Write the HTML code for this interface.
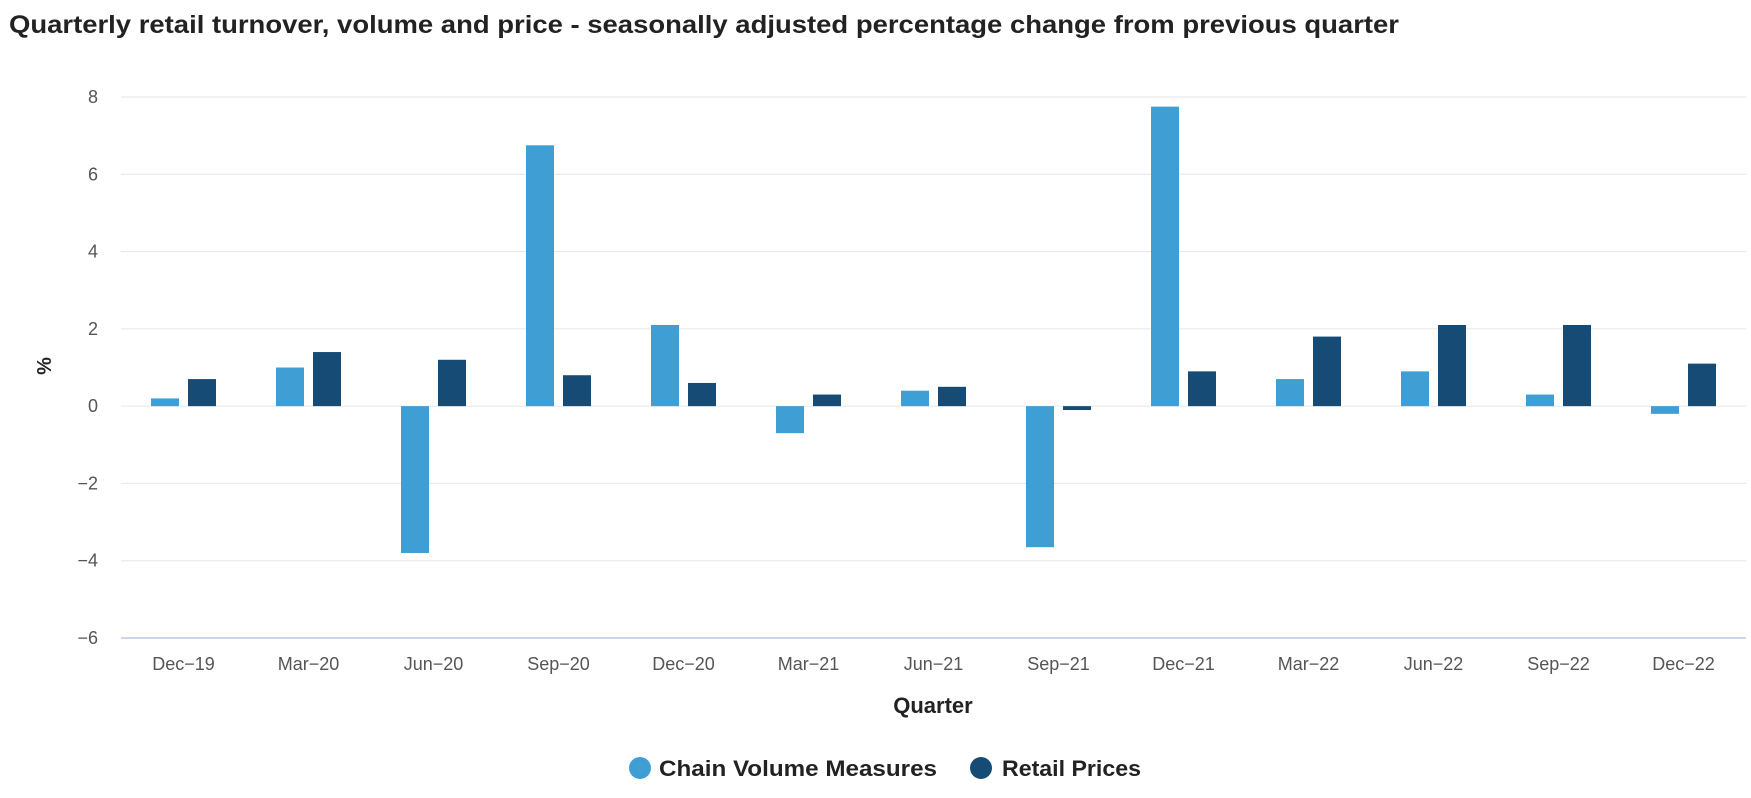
<!DOCTYPE html>
<html><head><meta charset="utf-8"><style>
html,body{margin:0;padding:0;background:#fff;}
svg{display:block;font-family:"Liberation Sans",sans-serif;}
</style></head><body>
<svg id="chart" width="1751" height="798">
<text x="9" y="33" font-size="25" font-weight="bold" fill="#222" textLength="1390" lengthAdjust="spacingAndGlyphs">Quarterly retail turnover, volume and price - seasonally adjusted percentage change from previous quarter</text>
<g id="grid"></g><g id="bars"></g><g id="xlabels"></g>
<text x="0" y="0" transform="translate(51,366) rotate(-90)" text-anchor="middle" font-size="20" font-weight="bold" fill="#222">%</text>
<text x="933" y="713" text-anchor="middle" font-size="22" font-weight="bold" fill="#222">Quarter</text>
<g><circle cx="640" cy="768" r="11" fill="#3f9fd4"/><text x="659" y="776" font-size="22" font-weight="bold" fill="#222" textLength="278" lengthAdjust="spacingAndGlyphs">Chain Volume Measures</text></g>
<g><circle cx="981" cy="768" r="11" fill="#154b74"/><text x="1002" y="776" font-size="22" font-weight="bold" fill="#222" textLength="139" lengthAdjust="spacingAndGlyphs">Retail Prices</text></g>
</svg>
<script>
const categories=["Dec-19","Mar-20","Jun-20","Sep-20","Dec-20","Mar-21","Jun-21","Sep-21","Dec-21","Mar-22","Jun-22","Sep-22","Dec-22"];
const chainVolume=[0.2,1.0,-3.8,6.75,2.1,-0.7,0.4,-3.65,7.75,0.7,0.9,0.3,-0.2];
const retailPrices=[0.7,1.4,1.2,0.8,0.6,0.3,0.5,-0.1,0.9,1.8,2.1,2.1,1.1];
const yTicks=[-6,-4,-2,0,2,4,6,8];
const NS="http://www.w3.org/2000/svg";
const L=121,R=1746,T=97,B=638,yMin=-6,yMax=8;
const y=v=>B-(v-yMin)/(yMax-yMin)*(B-T);
const band=(R-L)/categories.length;
const xc=i=>L+band*(i+0.5);
const grid=document.getElementById('grid'),bars=document.getElementById('bars'),xl=document.getElementById('xlabels');
function mk(tag,attrs,parent){const e=document.createElementNS(NS,tag);for(const k in attrs)e.setAttribute(k,attrs[k]);parent.appendChild(e);return e;}
yTicks.forEach(t=>{
  const ln=mk('line',{x1:L,x2:R,y1:y(t),y2:y(t),stroke:t===yMin?'#ccd6eb':'#e6e6e6','stroke-width':t===yMin?2:1},grid);
  
  
  const tx=mk('text',{x:98,y:y(t)+6,'text-anchor':'end','font-size':18,fill:'#555'},grid);
  tx.textContent=t<0?'\u2212'+Math.abs(t):String(t);
  
  
});
const bw=28,gap=9;
function bar(i,v,off,color){
  const y0=y(0),y1=y(v);
  const r=mk('rect',{x:xc(i)+off,y:Math.min(y0,y1),width:bw,height:Math.max(1,Math.abs(y1-y0)),fill:color},bars);
  return r;
}
categories.forEach((c,i)=>{
  const a=bar(i,chainVolume[i],-bw-gap/2,'#3f9fd4');
  
  
  const b=bar(i,retailPrices[i],gap/2,'#154b74');
  
  
  const t=mk('text',{x:xc(i),y:670,'text-anchor':'middle','font-size':18,fill:'#555'},xl);
  t.textContent=c.replace('-','\u2212');
  
  
});
</script>
</body></html>
